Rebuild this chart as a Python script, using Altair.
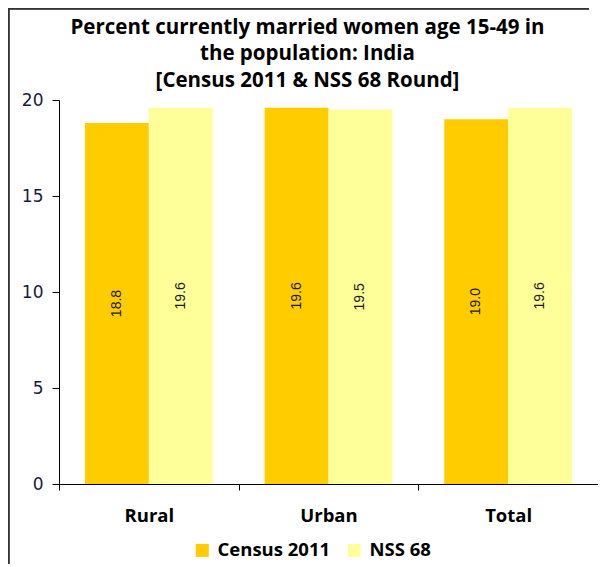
import altair as alt
import pandas as pd

categories = ["Rural", "Urban", "Total"]
series = ["Census 2011", "NSS 68"]
census_2011 = [18.8, 19.6, 19.0]
nss_68 = [19.6, 19.5, 19.6]
colors = ["#FFCC00", "#FFFF99"]
title_lines = ["Percent currently married women age 15-49 in",
               "the population: India",
               "[Census 2011 & NSS 68 Round]"]

rows = []
for i, c in enumerate(categories):
    rows.append({"category": c, "series": series[0], "value": census_2011[i]})
    rows.append({"category": c, "series": series[1], "value": nss_68[i]})
df = pd.DataFrame(rows)

W, H = 539, 384

x_enc = alt.X("category:N", sort=categories, title=None,
              scale=alt.Scale(paddingInner=0, paddingOuter=0),
              axis=alt.Axis(labelAngle=0, tickBand="extent", domainColor="#000000",
                            tickColor="#000000", tickSize=6, labelPadding=16,
                            labelFont="Open Sans", labelFontWeight="bold",
                            labelFontSize=18.5, labelColor="#000000"))
xo_enc = alt.XOffset("series:N", sort=series,
                     scale=alt.Scale(paddingInner=0, paddingOuter=0.40625))
y_enc = alt.Y("value:Q", title=None,
              scale=alt.Scale(domain=[0, 20], nice=False),
              axis=alt.Axis(values=[0, 5, 10, 15, 20], grid=False, domainColor="#000000",
                            tickColor="#000000", tickSize=7, labelPadding=9,
                            labelFont="DejaVu Sans", labelFontSize=17,
                            labelColor="#1a1a3a"))

base = alt.Chart(df)

bars = base.mark_bar().encode(
    x=x_enc, xOffset=xo_enc, y=y_enc,
    color=alt.Color("series:N", sort=series,
                    scale=alt.Scale(domain=series, range=colors),
                    legend=alt.Legend(title=None, orient="none", direction="horizontal",
                                      legendX=134, legendY=441,
                                      symbolType="square", symbolSize=170,
                                      symbolStrokeWidth=0, labelFont="Open Sans",
                                      labelFontWeight="bold", labelFontSize=18.5,
                                      labelColor="#000000", columnPadding=14,
                                      labelOffset=6))
)

labels = base.transform_calculate(mid="datum.value / 2").mark_text(
    angle=270, align="center", baseline="middle", font="Liberation Sans",
    fontSize=14, color="#1a1a1a"
).encode(
    x=alt.X("category:N", sort=categories),
    xOffset=alt.XOffset("series:N", sort=series),
    y=alt.Y("mid:Q"),
    text=alt.Text("value:Q", format=".1f"),
)

border_top = base.mark_rule(color="#333333", strokeWidth=1.5).encode(
    x=alt.value(-51), x2=alt.value(530), y=alt.value(-91.5))
border_left = base.mark_rule(color="#333333", strokeWidth=1.5).encode(
    x=alt.value(-50.5), y=alt.value(-92), y2=alt.value(H + 80))

chart = alt.layer(bars, labels, border_top, border_left).properties(
    width=W, height=H,
    title=alt.TitleParams(text=title_lines, font="Open Sans", fontWeight="bold",
                          fontSize=20.5, lineHeight=26.5, anchor="middle", dx=-21,
                          dy=84, color="#000000", offset=0),
    autosize=alt.AutoSizeParams(type="none"),
    padding={"left": 51, "top": 92, "right": 0, "bottom": 80},
    background="#FFFFFF",
).configure_view(stroke=None)

chart.save("out.html", embed_options={"renderer": "svg", "actions": False})
